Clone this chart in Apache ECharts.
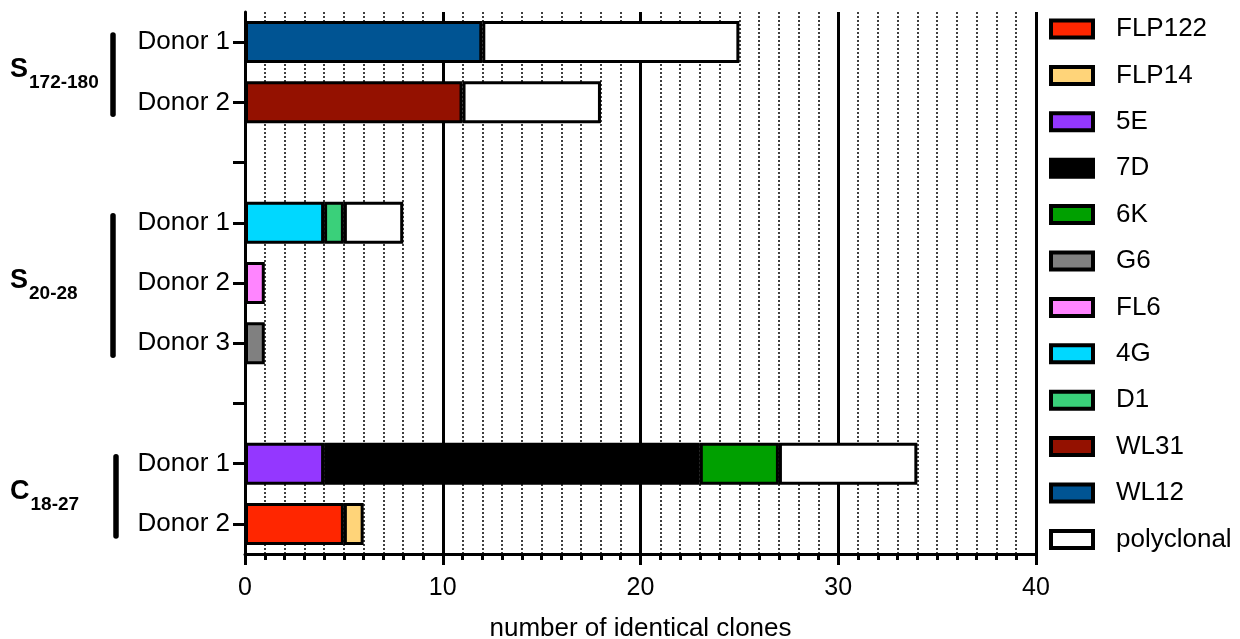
<!DOCTYPE html>
<html>
<head>
<meta charset="utf-8">
<script src="https://cdn.jsdelivr.net/npm/echarts@6/dist/echarts.min.js"></script>
<style>
html,body{margin:0;padding:0;background:#fff;}
#chart{width:1240px;height:639px;}
</style>
</head>
<body>
<div id="chart"></div>
<script>
// ---- data ----
const categories = ['S172_D1','S172_D2','gap1','S20_D1','S20_D2','S20_D3','gap2','C_D1','C_D2'];
const rowLabels  = ['Donor 1','Donor 2','','Donor 1','Donor 2','Donor 3','','Donor 1','Donor 2'];
const seriesNames  = ['FLP122','FLP14','5E','7D','6K','G6','FL6','4G','D1','WL31','WL12','polyclonal'];
const seriesColors = ['#ff2600','#ffd479','#9437ff','#000000','#00a000','#808080','#ff85ff','#00d8ff','#3ad07a','#941100','#005493','#ffffff'];
const FLP122     = [null,null,null,null,null,null,null,null,5];
const FLP14      = [null,null,null,null,null,null,null,null,1];
const E5         = [null,null,null,null,null,null,null,4,null];
const D7         = [null,null,null,null,null,null,null,19,null];
const K6         = [null,null,null,null,null,null,null,4,null];
const G6         = [null,null,null,null,null,1,null,null,null];
const FL6        = [null,null,null,null,1,null,null,null,null];
const G4         = [null,null,null,4,null,null,null,null,null];
const D1         = [null,null,null,1,null,null,null,null,null];
const WL31       = [null,11,null,null,null,null,null,null,null];
const WL12       = [12,null,null,null,null,null,null,null,null];
const polyclonal = [13,7,null,3,null,null,null,7,null];
const seriesValues = [FLP122,FLP14,E5,D7,K6,G6,FL6,G4,D1,WL31,WL12,polyclonal];
const xTicks = [0,10,20,30,40];
const xAxisName = 'number of identical clones';
const groupMain = ['S','S','C'];
const groupSub  = ['172-180','20-28','18-27'];
const groupFrom = [0,3,7];
const groupTo   = [1,5,8];

// ---- chart ----
const FONT = '"Liberation Sans", Arial, Helvetica, sans-serif';
const chart = echarts.init(document.getElementById('chart'), null, {renderer:'canvas'});

const series = seriesNames.map((name,i)=>({
  name: name,
  type: 'bar',
  stack: 'total',
  barWidth: 42,
  data: seriesValues[i],
  itemStyle: {color: seriesColors[i], borderColor:'#000', borderWidth:3},
  emphasis: {disabled:true},
  animation: false
}));

chart.setOption({
  animation: false,
  backgroundColor: '#fff',
  textStyle: {fontFamily: FONT},
  grid: {left:245, right:204, top:12, bottom:85, containLabel:false, outerBoundsMode:'none'},
  legend: {
    orient: 'vertical',
    left: 1049, top: 16, padding: 0,
    data: seriesNames,
    icon: 'rect',
    itemWidth: 42, itemHeight: 17, itemGap: 20.4,
    itemStyle: {borderColor:'#000', borderWidth:4},
    textStyle: {fontFamily: FONT, fontSize: 26, color:'#000', lineHeight: 26, padding:[0,0,0,18]},
    selectedMode: false
  },
  xAxis: {
    type: 'value', min: xTicks[0], max: xTicks[xTicks.length-1], interval: 10,
    name: xAxisName, nameLocation: 'middle', nameGap: 62,
    nameTextStyle: {fontFamily: FONT, fontSize: 26, color:'#000'},
    axisLine: {show:true, lineStyle:{color:'#000', width:3}},
    axisTick: {show:true, length:11, lineStyle:{color:'#000', width:3}},
    minorTick: {show:true, splitNumber:10, length:6, lineStyle:{color:'#000', width:3}},
    axisLabel: {fontFamily: FONT, fontSize: 25, color:'#000', margin: 22},
    splitLine: {show:true, lineStyle:{color:'#000', width:3}},
    minorSplitLine: {show:true, lineStyle:{color:'#000', width:1.5, type:[2,2]}}
  },
  yAxis: {
    type: 'category', inverse: true, data: categories,
    axisLine: {show:true, lineStyle:{color:'#000', width:3}},
    axisTick: {show:true, alignWithLabel:true, length:12, lineStyle:{color:'#000', width:3}},
    axisLabel: {fontFamily: FONT, fontSize: 26, color:'#000', margin: 15,
      formatter: (v, idx) => rowLabels[idx]},
    splitLine: {show:false}
  },
  series: series
});

// group labels and brackets, placed relative to category positions
const ctx = document.createElement('canvas').getContext('2d');
const graphics = [];
for (let g = 0; g < groupMain.length; g++) {
  const yA = chart.convertToPixel({yAxisIndex:0}, groupFrom[g]);
  const yB = chart.convertToPixel({yAxisIndex:0}, groupTo[g]);
  const bx = groupMain[g] === 'C' ? 116 : 113;
  graphics.push({
    type:'line', silent:true,
    shape:{x1:bx, y1:yA-7, x2:bx, y2:yB+12},
    style:{stroke:'#000', lineWidth:5.5, lineCap:'round'}
  });
  const mid = (yA + yB)/2;
  const base = mid + 7;
  ctx.font = 'bold 27px ' + FONT;
  const w = ctx.measureText(groupMain[g]).width;
  graphics.push({
    type:'text', silent:true, x:10, y:base-9.5,
    style:{text:groupMain[g], font:'bold 27px ' + FONT, fill:'#000', align:'left', verticalAlign:'middle'}
  });
  graphics.push({
    type:'text', silent:true, x:10 + w + 1, y:base + 11 - 7,
    style:{text:groupSub[g], font:'bold 19px ' + FONT, fill:'#000', align:'left', verticalAlign:'middle'}
  });
}
chart.setOption({graphic: graphics});
</script>
</body>
</html>
